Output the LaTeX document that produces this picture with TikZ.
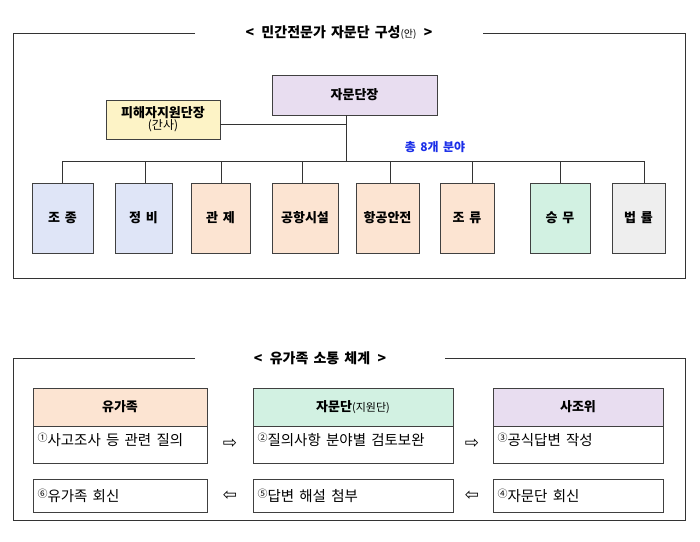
\documentclass[tikz,border=0pt]{standalone}
\usepackage{fontspec}
\setmainfont[WordSpace=1.6]{Noto Sans CJK KR}
\newfontfamily\dv{DejaVu Sans}
\definecolor{cblue}{HTML}{DFE5F7}
\definecolor{cpeach}{HTML}{FCE4D2}
\definecolor{cmint}{HTML}{D2F1E2}
\definecolor{cgrey}{HTML}{EEEEEE}
\definecolor{clav}{HTML}{E8DDF0}
\definecolor{cyel}{HTML}{FDF3C6}
\definecolor{txtblue}{HTML}{1A2EE8}
\begin{document}
\begin{tikzpicture}[x=1pt,y=-1pt,
  bx/.style={draw=black!75,line width=0.9pt,inner sep=0pt,font=\bfseries\fontsize{13}{15}\selectfont},
  ln/.style={draw=black!80,line width=0.9pt},
  fr/.style={draw=black!80,line width=0.9pt},
  ttl/.style={font=\bfseries\fontsize{14}{16}\selectfont},
  body/.style={draw=black!75,line width=0.9pt,inner sep=0pt},
  bt/.style={font=\fontsize{14.5}{16}\selectfont},
  arr/.style={font=\dv\fontsize{17}{18}\selectfont}]
\newcommand{\cn}[1]{{\fontsize{10}{11}\selectfont\raisebox{4pt}{#1}}}
\useasboundingbox (0,0) rectangle (700,541);
% top frame
\draw[fr] (195,33) -- (13,33) -- (13,278) -- (685,278) -- (685,33) -- (483,33);
\node[ttl] (t1) at (339,33) {<\, 민간전문가 자문단 구성{\mdseries\fontsize{10}{11}\selectfont(안)} \,>};
\node[bx,fill=clav,minimum width=165pt,minimum height=40pt] (head) at (354.5,95) {자문단장};
\node[bx,fill=cyel,minimum width=114pt,minimum height=39pt,align=center] (vic) at (163,119.5) {피해자지원단장\\[-3pt]{\mdseries\fontsize{12}{13}\selectfont(간사)}};
\coordinate (j1) at (346,124);
\coordinate (j2) at (346,161);
\draw[ln] (vic.east|-j1) -- (j1);
\draw[ln] (head.south-|j1) -- (j2);
\node[font=\bfseries\fontsize{12}{14}\selectfont,text=txtblue] (n8) at (435,147) {총 8개 분야};
\coordinate (bl) at (62,161);
\coordinate (br) at (644,161);
\draw[ln] (bl) -- (br);
\foreach \n/\x/\w/\c/\t/\d in {a/62.5/61/cblue/조 종/62, b/143.5/57/cblue/정 비/145, c/220.5/59/cpeach/관 제/221, d/305/66/cpeach/공항시설/302, e/387.5/63/cpeach/항공안전/390, f/467/54/cpeach/조 류/472, g/560/60/cmint/승 무/560, h/638.5/53/cgrey/법 률/644}{
  \node[bx,fill=\c,minimum width=\w pt,minimum height=70pt] (\n) at (\x,218) {\t};
  \draw[ln] (\d,161) -- (\d,183);
}
% bottom frame
\draw[fr] (195,358) -- (13,358) -- (13,520) -- (685,520) -- (685,358) -- (445,358);
\node[ttl] (t2) at (320,358) {<\, 유가족 소통 체계 \,>};
% row 1
\node[bx,fill=cpeach,minimum width=174pt,minimum height=38pt] (h1) at (120,407) {유가족};
\node[bx,fill=cmint,minimum width=200pt,minimum height=38pt] (h2) at (353,407) {자문단{\mdseries\fontsize{11}{12}\selectfont(지원단)}};
\node[bx,fill=clav,minimum width=170pt,minimum height=38pt] (h3) at (578,407) {사조위};
\node[body,minimum width=174pt,minimum height=37pt,anchor=north west] (b1) at (33,426) {};
\node[bt,anchor=west] (l1) at (34,440) {\cn{①}사고조사 등 관련 질의};
\node[body,minimum width=200pt,minimum height=37pt,anchor=north west] (b2) at (253,426) {};
\node[bt,anchor=west] (l2) at (254,440) {\cn{②}질의사항 분야별 검토보완};
\node[body,minimum width=170pt,minimum height=37pt,anchor=north west] (b3) at (493,426) {};
\node[bt,anchor=west] (l3) at (494,440) {\cn{③}공식답변 작성};
\node[arr] (a1) at (230,444) {⇨};
\node[arr] (a2) at (472,444) {⇨};
% row 2
\node[body,minimum width=174pt,minimum height=33pt,anchor=north west] (c1) at (33,479) {};
\node[bt,anchor=west] (l6) at (34,495.5) {\cn{⑥}유가족 회신};
\node[body,minimum width=200pt,minimum height=33pt,anchor=north west] (c2) at (253,479) {};
\node[bt,anchor=west] (l5) at (254,495.5) {\cn{⑤}답변 해설 첨부};
\node[body,minimum width=170pt,minimum height=33pt,anchor=north west] (c3) at (493,479) {};
\node[bt,anchor=west] (l4) at (494,495.5) {\cn{④}자문단 회신};
\node[arr] (a3) at (230,496) {⇦};
\node[arr] (a4) at (472,496) {⇦};
\end{tikzpicture}
\end{document}
